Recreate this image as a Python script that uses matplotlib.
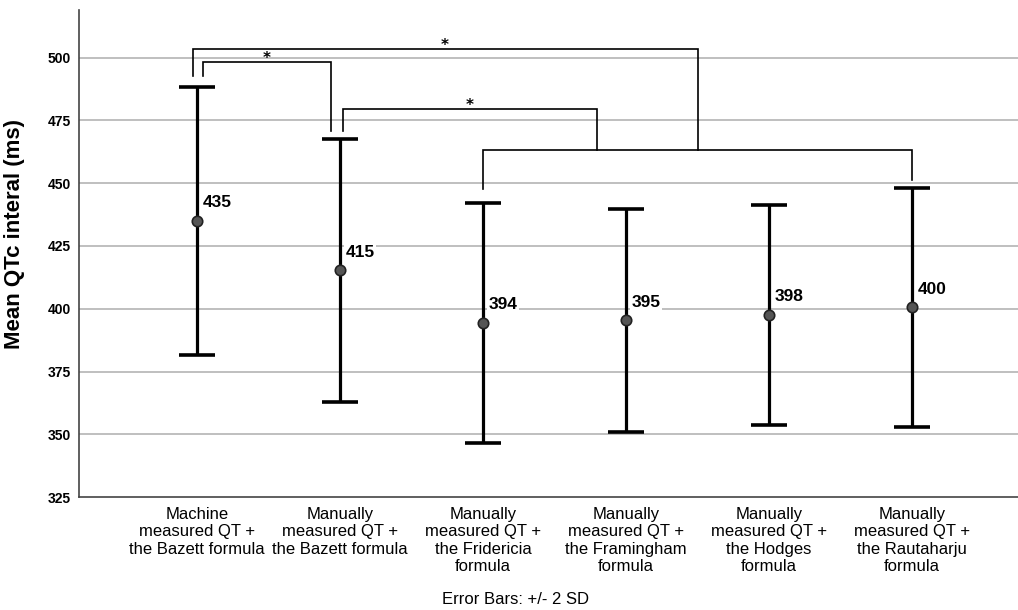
import matplotlib.pyplot as plt

groups = ['Machine\nmeasured QT +\nthe Bazett formula',
          'Manually\nmeasured QT +\nthe Bazett formula',
          'Manually\nmeasured QT +\nthe Fridericia\nformula',
          'Manually\nmeasured QT +\nthe Framingham\nformula',
          'Manually\nmeasured QT +\nthe Hodges\nformula',
          'Manually\nmeasured QT +\nthe Rautaharju\nformula']
means = [435.0, 415.3, 394.4, 395.4, 397.6, 400.5]
upper = [488.4, 467.7, 442.2, 439.8, 441.4, 448.2]
lower = [381.6, 362.9, 346.6, 351.0, 353.7, 352.9]
mean_labels = ['435', '415', '394', '395', '398', '400']

# significance brackets: x left, x right, top y, left leg end, right leg end, star
brackets = [
    (-0.03, 3.50, 503.6, 492.8, 463.3, True),
    (0.04, 0.94, 498.4, 492.8, 470.9, True),
    (1.02, 2.80, 479.7, 470.9, 463.3, True),
    (2.00, 5.00, 463.3, 447.5, 451.4, False),
]

x = list(range(len(groups)))
err_lo = [m - l for m, l in zip(means, lower)]
err_hi = [u - m for m, u in zip(means, upper)]

fig = plt.figure(figsize=(10.18, 6.10), dpi=100)
ax = fig.add_axes([0.0776, 0.1852, 0.9224, 0.7984])

for yv in [350, 375, 400, 425, 450, 475, 500]:
    ax.axhline(yv, color='#b4b4b4', lw=1.2, zorder=0)

ax.errorbar(x, means, yerr=[err_lo, err_hi], fmt='none', ecolor='black',
            elinewidth=2.3, capsize=13, capthick=2.6, zorder=2)
ax.plot(x, means, 'o', ms=7.5, mfc='#555555', mec='#222222', mew=1.2, zorder=3)

for xi, m, lab in zip(x, means, mean_labels):
    ax.annotate(lab, (xi, m), xytext=(4, 13), textcoords='offset points',
                ha='left', va='center', fontsize=12.5, fontweight='bold',
                family=['Liberation Sans', 'DejaVu Sans'],
                bbox=dict(boxstyle='square,pad=0.1', fc='white', ec='none'),
                zorder=4)

for x0, x1, top, y0, y1, star in brackets:
    ax.plot([x0, x0, x1, x1], [y0, top, top, y1], color='black', lw=1.2,
            solid_joinstyle='miter', zorder=2)
    if star:
        ax.text((x0 + x1) / 2, top - 1.9, '*',
                ha='center', va='bottom', fontsize=11, fontweight='bold')

ax.set_xlim(-0.825, 5.741)
ax.set_ylim(325, 519)
ax.set_yticks([325, 350, 375, 400, 425, 450, 475, 500])
ax.set_xticks(x)
ax.set_xticklabels(groups, family=['Liberation Sans', 'DejaVu Sans'],
                   fontsize=12, linespacing=1.2)
for t in ax.get_yticklabels():
    t.set_fontweight('bold')
    t.set_family(['Liberation Sans', 'DejaVu Sans'])
    t.set_fontsize(10)
ax.tick_params(axis='both', length=0)
ax.tick_params(axis='y', pad=6)
ax.tick_params(axis='x', pad=7)
for side in ['top', 'right']:
    ax.spines[side].set_visible(False)
for side in ['left', 'bottom']:
    ax.spines[side].set_color('#444444')
    ax.spines[side].set_linewidth(1.2)

ax.set_ylabel('Mean QTc interal (ms)', fontsize=16, fontweight='bold',
              family=['Liberation Sans', 'DejaVu Sans'])
ax.yaxis.set_label_coords(-0.057, 0.54)

fig.text(0.506, 0.018, 'Error Bars: +/- 2 SD', ha='center', va='center',
         fontsize=12, family=['Liberation Sans', 'DejaVu Sans'])

fig.savefig('out.png', dpi=100)
